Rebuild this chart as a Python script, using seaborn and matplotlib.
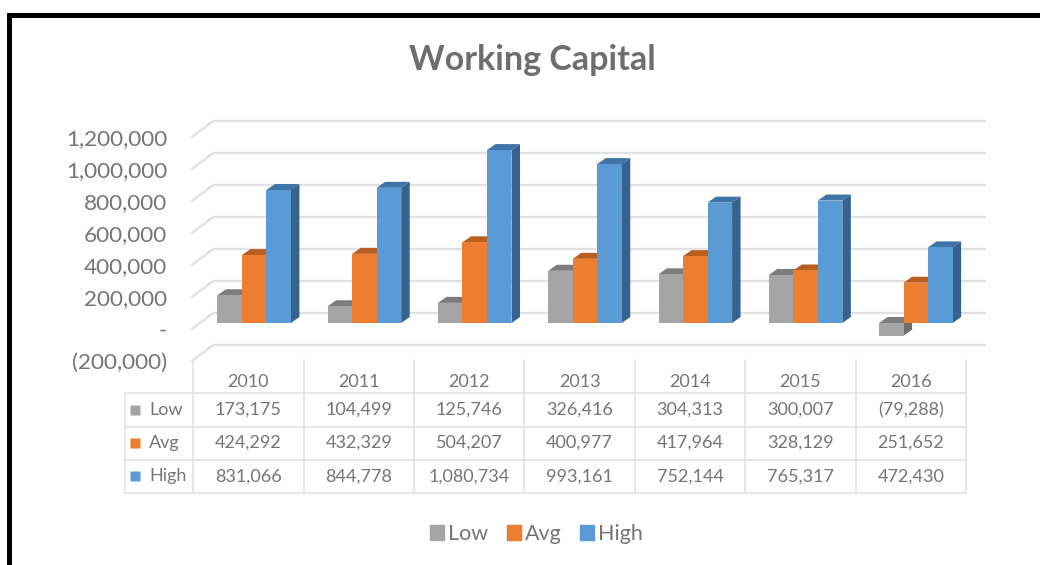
import pandas as pd
import matplotlib
matplotlib.use('Agg')
import matplotlib.pyplot as plt
from matplotlib.patches import Polygon
import seaborn as sns

years = ['2010', '2011', '2012', '2013', '2014', '2015', '2016']
series = ['Low', 'Avg', 'High']
low = [173175, 104499, 125746, 326416, 304313, 300007, -79288]
avg = [424292, 432329, 504207, 400977, 417964, 328129, 251652]
high = [831066, 844778, 1080734, 993161, 752144, 765317, 472430]
low_labels = ['173,175', '104,499', '125,746', '326,416', '304,313', '300,007', '(79,288)']
avg_labels = ['424,292', '432,329', '504,207', '400,977', '417,964', '328,129', '251,652']
high_labels = ['831,066', '844,778', '1,080,734', '993,161', '752,144', '765,317', '472,430']
tick_values = [-200000, 0, 200000, 400000, 600000, 800000, 1000000, 1200000]
tick_labels = ['(200,000)', '-', '200,000', '400,000', '600,000', '800,000', '1,000,000', '1,200,000']

colors = ['#A5A5A5', '#ED7D31', '#5B9BD5']
top_colors = ['#7C7C7C', '#B85F20', '#3F74A8']
side_colors = ['#6E6E6E', '#A85518', '#35628F']
text_color = '#787474'
line_color = '#E2E0E0'

W, H = 1040, 565
PX = 6250  # value units per pixel


def px_axes(left, top, right, bottom, **kw):
    return fig.add_axes([left / W, 1 - bottom / H, (right - left) / W, (bottom - top) / H], **kw)


sns.set_theme(style='white')
plt.rcParams['font.family'] = ['Lato', 'DejaVu Sans']

df = pd.DataFrame({'year': years * 3,
                   'series': [s for s in series for _ in years],
                   'value': low + avg + high})

fig = plt.figure(figsize=(W / 100, H / 100), dpi=100)

# Back grid with the front-plane tick labels
grid_ax = px_axes(192, 100, 964, 380)
grid_ax.set_xlim(-0.5, 6.5)
grid_ax.set_ylim((329 - 380) * PX, (329 - 100) * PX)
depth_x, depth_y = 21 / 110.3, 16 * PX
for v in tick_values:
    grid_ax.plot([-0.5, -0.5 + depth_x, 6.5 + depth_x], [v, v + depth_y, v + depth_y],
                 color=line_color, lw=1.6, clip_on=False)
grid_ax.set_yticks(tick_values)
grid_ax.set_yticklabels(tick_labels, fontsize=16.2, color=text_color)
grid_ax.tick_params(axis='y', length=0, pad=18)
grid_ax.set_xticks([])
sns.despine(ax=grid_ax, left=True, bottom=True, top=True, right=True)
grid_ax.patch.set_alpha(0)

# Bars, shifted a little into the depth of the floor
bar_ax = px_axes(199, 100, 971, 380)
sns.barplot(data=df, x='year', y='value', hue='series', hue_order=series, palette=colors,
            width=0.667, gap=0, saturation=1, ax=bar_ax, legend=False)
bar_ax.set_xlim(-0.5, 6.5)
bar_ax.set_ylim((323 - 380) * PX, (323 - 100) * PX)
bar_ax.axis('off')
bar_dx, bar_dy = 8.5 / 110.25, 6 * PX
for i, container in enumerate(bar_ax.containers):
    for patch in container:
        x0, x1 = patch.get_x(), patch.get_x() + patch.get_width()
        y0, y1 = sorted([patch.get_y(), patch.get_y() + patch.get_height()])
        patch.set_zorder(3 + i)
        patch.set_edgecolor('none')
        bar_ax.add_patch(Polygon([(x0, y1), (x1, y1), (x1 + bar_dx, y1 + bar_dy), (x0 + bar_dx, y1 + bar_dy)],
                                 facecolor=top_colors[i], edgecolor='none', zorder=2.9 + i))
        bar_ax.add_patch(Polygon([(x1, y0), (x1, y1), (x1 + bar_dx, y1 + bar_dy), (x1 + bar_dx, y0 + bar_dy)],
                                 facecolor=side_colors[i], edgecolor='none', zorder=2.9 + i))

# Data table under the chart
table_ax = px_axes(125, 360, 966, 493)
table_ax.set_xlim(-0.617, 7)
table_ax.set_ylim(4, 0)
table_ax.axis('off')
for c in range(8):
    table_ax.plot([c, c], [0, 4], color=line_color, lw=1.1, clip_on=False)
table_ax.plot([-0.617, -0.617], [1, 4], color=line_color, lw=1.1, clip_on=False)
for r in range(1, 5):
    table_ax.plot([-0.617, 7], [r, r], color=line_color, lw=1.1, clip_on=False)
for c, year in enumerate(years):
    table_ax.text(c + 0.5, 0.65, year, ha='center', va='center', fontsize=13, color=text_color)
rows = [low_labels, avg_labels, high_labels]
for r, labels in enumerate(rows):
    y = r + 1.5
    table_ax.plot(-0.525, y, marker='s', ms=6.5, mfc=colors[r], mec='none', clip_on=False)
    table_ax.text(-0.40, y, series[r], ha='left', va='center', fontsize=13, color=text_color)
    for c, label in enumerate(labels):
        table_ax.text(c + 0.5, y, label, ha='center', va='center', fontsize=13, color=text_color)

# Legend
handles = [plt.Rectangle((0, 0), 1, 1, color=c) for c in colors]
fig.legend(handles, series, loc='center', bbox_to_anchor=(536.5 / W, 1 - 534 / H), ncol=3, frameon=False,
           fontsize=15.5, labelcolor=text_color, handlelength=0.65, handleheight=0.65,
           handletextpad=0.2, columnspacing=0.85)

fig.text(532 / W, 1 - 60 / H, 'Working Capital', ha='center', va='center', fontsize=24.5,
         fontweight='bold', color='#6E6E6E')

# Black frame of the source picture
frame = fig.add_axes([0, 0, 1, 1], zorder=10)
frame.set_xlim(0, W)
frame.set_ylim(H, 0)
frame.axis('off')
frame.plot([9, 9, W], [H, 15, 15], color='black', lw=3.6, solid_joinstyle='miter', clip_on=False)

fig.savefig('out.png', dpi=100)
